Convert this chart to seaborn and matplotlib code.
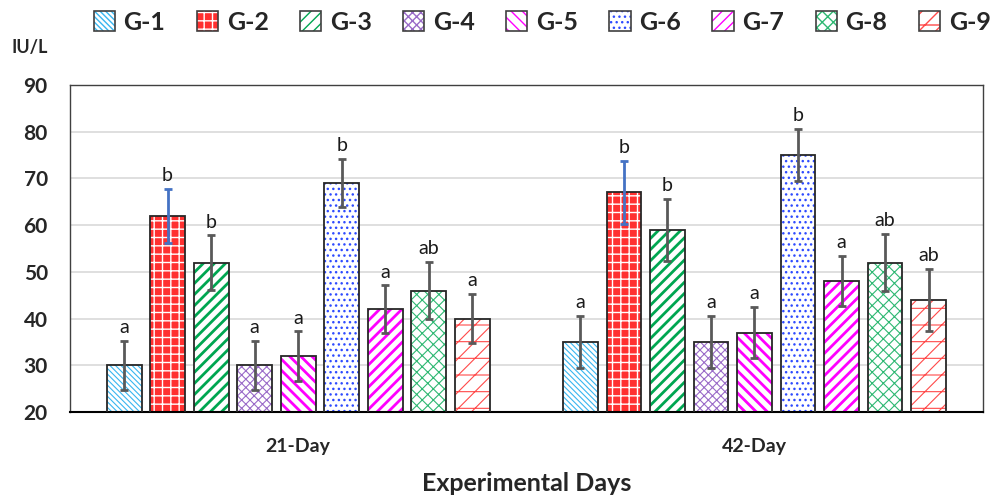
import matplotlib
matplotlib.use("Agg")
import matplotlib.pyplot as plt
import seaborn as sns
import pandas as pd
import numpy as np
from matplotlib.patches import Patch, Rectangle
from matplotlib.legend_handler import HandlerTuple

# ---- data ----
days = ["21-Day", "42-Day"]
groups = ["G-1", "G-2", "G-3", "G-4", "G-5", "G-6", "G-7", "G-8", "G-9"]
values_21 = [30, 62, 52, 30, 32, 69, 42, 46, 40]
values_42 = [35, 67, 59, 35, 37, 75, 48, 52, 44]
err_21 = [5.2, 5.8, 5.8, 5.2, 5.3, 5.2, 5.1, 6.1, 5.3]
err_42 = [5.6, 6.8, 6.7, 5.6, 5.5, 5.6, 5.4, 6.1, 6.6]
letters_21 = ["a", "b", "b", "a", "a", "b", "a", "ab", "a"]
letters_42 = ["a", "b", "b", "a", "a", "b", "a", "ab", "ab"]
y_ticks = [20, 30, 40, 50, 60, 70, 80, 90]

# ---- styles ----
hatch_color = ["#38B6F0", "#FFFFFF", "#00A651", "#9A6BC8", "#FF00FF",
               "#2E4BFF", "#FF00FF", "#2EB872", "#FF4A4A"]
face_color = ["#FFFFFF", "#FF3030", "#FFFFFF", "#FFFFFF", "#FFFFFF",
              "#FFFFFF", "#FFFFFF", "#FFFFFF", "#FFFFFF"]
hatches = ["\\\\\\\\\\\\", "++", "///", "xxxx", "\\\\\\",
           "...", "///", "xxx", "//-"]
hatch_lw = [0.8, 1.0, 2.0, 0.8, 2.0, 1.0, 2.0, 0.8, 0.8]
err_color = ["#595959", "#4472C4", "#595959", "#595959", "#595959",
             "#595959", "#595959", "#595959", "#595959"]

df = pd.DataFrame({
    "Day": [d for d in days for _ in groups],
    "Group": groups * 2,
    "Value": values_21 + values_42,
})

sns.set_theme(style="white")
plt.rcParams["font.family"] = ["Lato", "DejaVu Sans"]

fig = plt.figure(figsize=(9.91, 4.97), dpi=100)
ax = fig.add_axes([0.0706, 0.171, 0.921, 0.658])

sns.barplot(data=df, x="Day", y="Value", hue="Group", order=days,
            hue_order=groups, errorbar=None, width=0.858, gap=0.2,
            ax=ax, legend=False)

bar_containers = list(ax.containers)
errs = [err_21, err_42]
lets = [letters_21, letters_42]
for gi, cont in enumerate(bar_containers):
    for di, p in enumerate(cont.patches):
        p.set_facecolor(face_color[gi])
        p.set_edgecolor(hatch_color[gi])
        p.set_hatch(hatches[gi])
        p.set_linewidth(0)
        if hasattr(p, "set_hatch_linewidth"):
            p.set_hatch_linewidth(hatch_lw[gi])
        x = p.get_x() + p.get_width() / 2
        h = p.get_height()
        ax.add_patch(Rectangle((p.get_x(), p.get_y()), p.get_width(), h,
                               fill=False, edgecolor="#262626", lw=1.3, zorder=3))
        e = errs[di][gi]
        ax.errorbar(x, h, yerr=e, color=err_color[gi], lw=2, capsize=3,
                    capthick=2, zorder=4)
        ax.text(x, h + e + 1.0, lets[di][gi], ha="center", va="bottom",
                fontsize=14, color="#1a1a1a", zorder=5)

ax.set_ylim(20, 90)
ax.set_xlim(-0.5, 1.5)
ax.set_yticks(y_ticks)
ax.yaxis.grid(True, color="#D9D9D9", lw=1.2)
ax.set_axisbelow(True)
for s in ["top", "right", "left"]:
    ax.spines[s].set_color("#404040")
    ax.spines[s].set_linewidth(1.0)
ax.spines["bottom"].set_color("#000000")
ax.spines["bottom"].set_linewidth(1.5)
ax.tick_params(axis="y", length=0, pad=16, labelsize=15)
ax.tick_params(axis="x", length=0, pad=19, labelsize=14)
for t in ax.get_yticklabels() + ax.get_xticklabels():
    t.set_fontweight("bold")
ax.set_ylabel("")
ax.set_xlabel("Experimental Days", fontsize=18, fontweight="bold", labelpad=12)

fig.text(0.012, 0.905, "IU/L", fontsize=13, fontweight="bold", ha="left", va="center")

handles = []
for gi in range(len(groups)):
    hp = Patch(facecolor=face_color[gi], edgecolor=hatch_color[gi],
               hatch=hatches[gi], lw=0)
    ho = Patch(facecolor="none", edgecolor="#404040", lw=1.2)
    handles.append((hp, ho))
leg = fig.legend(handles, groups, loc="center", bbox_to_anchor=(0.547, 0.955),
                 ncol=9, frameon=False, fontsize=18, handlelength=0.85,
                 handleheight=0.85, handletextpad=0.35, columnspacing=1.25,
                 borderpad=0.2, handler_map={tuple: HandlerTuple(ndivide=1, pad=0)})
for t in leg.get_texts():
    t.set_fontweight("bold")

fig.savefig("out.png", dpi=100)
